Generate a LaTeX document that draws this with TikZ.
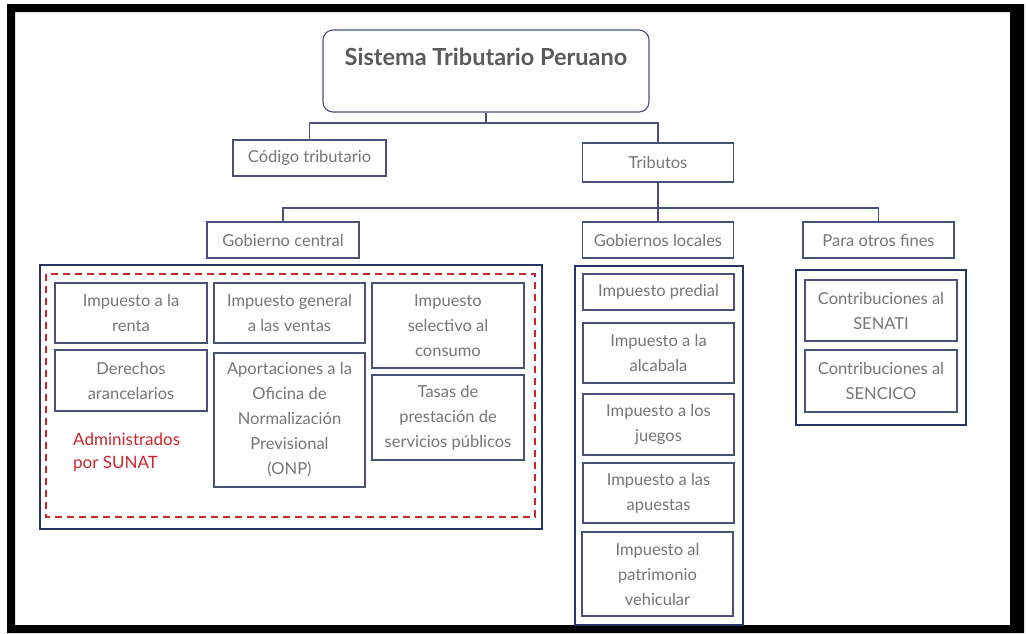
\documentclass[tikz,border=0pt]{standalone}
\usepackage{fontspec}
\setmainfont{Lato}
\definecolor{boxc}{HTML}{4A5078}
\definecolor{navyc}{HTML}{283468}
\definecolor{txtc}{HTML}{767676}
\definecolor{titc}{HTML}{5A5A5A}
\definecolor{redc}{HTML}{C8282D}
\tikzset{
  box/.style={draw=boxc, line width=1.1pt, fill=white, text=txtc, align=center, inner sep=0pt,
    font=\fontsize{16.5}{25}\selectfont},
  hbox/.style={box, font=\fontsize{16.5}{25}\selectfont},
  container/.style={draw=navyc, line width=2pt},
  conn/.style={draw=boxc, line width=1.1pt},
}
\begin{document}
\begin{tikzpicture}[x=1pt,y=-1pt]
\useasboundingbox (0,0) rectangle (1026,633);
\fill[black, even odd rule] (7,4) rectangle (1024,633) (15,12) rectangle (1010,625);

% title
\node[box, rounded corners=10pt, minimum width=326pt, minimum height=82pt] (title) at (486,71) {};
\node[text=titc, font=\fontsize{23.5}{28}\selectfont\bfseries] (titletext) at (486,57) {Sistema Tributario Peruano};

% level 1
\node[hbox, minimum width=153pt, minimum height=36pt] (codigo) at (309.5,158) {Código tributario};
\node[hbox, minimum width=151pt, minimum height=39pt] (tributos) at (658,162.5) {Tributos};

% level 2
\node[hbox, minimum width=152pt, minimum height=36pt] (gc) at (283,240) {Gobierno central};
\node[hbox, minimum width=151pt, minimum height=36pt] (gl) at (658,240) {Gobiernos locales};
\node[hbox, minimum width=151pt, minimum height=36pt] (pof) at (878.5,240) {Para otros fines};

% connectors
\coordinate (j1) at (487,123);
\coordinate (j2) at (0,208);
\draw[conn] (title.south) -- (title.south |- j1);
\draw[conn] (codigo.north) -- (codigo.north |- j1) -- (tributos.north |- j1) -- (tributos.north);
\draw[conn] (tributos.south) -- (gl.north);
\draw[conn] (gc.north) -- (gc.north |- j2) -- (pof.north |- j2) -- (pof.north);

% central government container
\draw[container] (40,265) rectangle (542,529);
\draw[draw=redc, line width=1.6pt, dash pattern=on 7pt off 5pt] (46,274) rectangle (535,517);
\node[box, minimum width=152pt, minimum height=60pt] (renta) at (131,313) {Impuesto a la\\renta};
\node[box, minimum width=152pt, minimum height=61pt] (derechos) at (131,380.5) {Derechos\\arancelarios};
\node[box, minimum width=151pt, minimum height=60pt] (igv) at (289.5,313) {Impuesto general\\a las ventas};
\node[box, minimum width=151pt, minimum height=134pt] (onp) at (289.5,420) {Aportaciones a la\\Oficina de\\Normalización\\Previsional\\(ONP)};
\node[box, minimum width=152pt, minimum height=85pt] (isc) at (448,325.5) {Impuesto\\selectivo al\\consumo};
\node[box, minimum width=152pt, minimum height=85pt] (tasas) at (448,417.5) {Tasas de\\prestación de\\servicios públicos};
\node[anchor=north west, align=left, inner sep=0pt, text=redc, font=\fontsize{17}{23}\selectfont] (sunat) at (73,433) {Administrados\\por SUNAT};

% local governments container
\draw[container] (575,266) rectangle (743,625);
\node[box, minimum width=151pt, minimum height=36pt] (predial) at (658.5,292) {Impuesto predial};
\node[box, minimum width=151pt, minimum height=60pt] (alcabala) at (658.5,353) {Impuesto a la\\alcabala};
\node[box, minimum width=151pt, minimum height=61pt] (juegos) at (658.5,424.5) {Impuesto a los\\juegos};
\node[box, minimum width=151pt, minimum height=60pt] (apuestas) at (658.5,493) {Impuesto a las\\apuestas};
\node[box, minimum width=151pt, minimum height=84pt] (vehicular) at (657.5,574) {Impuesto al\\patrimonio\\vehicular};

% other purposes container
\draw[container] (796,270) rectangle (966,425);
\node[box, minimum width=152pt, minimum height=61pt] (senati) at (881,310.5) {Contribuciones al\\SENATI};
\node[box, minimum width=152pt, minimum height=62pt] (sencico) at (881,381) {Contribuciones al\\SENCICO};
\end{tikzpicture}
\end{document}
